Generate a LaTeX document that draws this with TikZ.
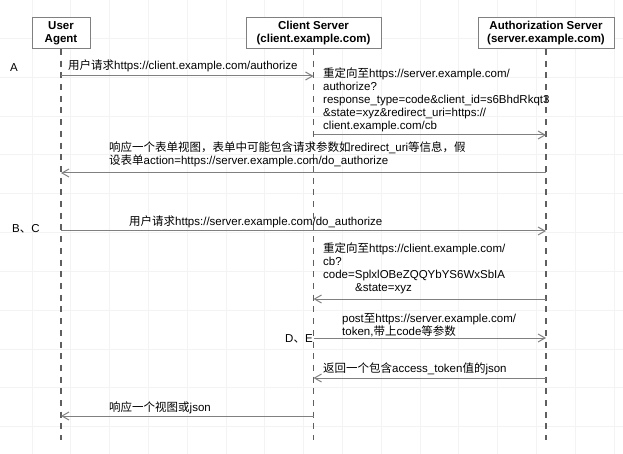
\documentclass[tikz,border=0pt]{standalone}
\usepackage{fontspec}
\setmainfont{Liberation Sans}
\newfontfamily\zhfont{Noto Sans CJK SC}
\newcommand{\zh}[1]{{\zhfont #1}}
\usetikzlibrary{arrows.meta}
\definecolor{gridc}{RGB}{243,243,243}
\definecolor{boxc}{RGB}{128,128,128}
\definecolor{lifec}{RGB}{95,95,95}
\definecolor{msgc}{RGB}{128,128,128}
\begin{document}
\begin{tikzpicture}[
    x=1pt, y=-1pt,
    every node/.style={font=\fontsize{11.5}{13}\selectfont},
    actor/.style={draw=boxc, fill=white, line width=1pt, minimum height=31pt,
        inner sep=0pt, align=center, font=\fontsize{11.5}{13}\selectfont\bfseries},
    lifeline/.style={draw=lifec, line width=1.5pt, dash pattern=on 6pt off 5.7pt},
    msg/.style={draw=msgc, line width=1pt, -{Straight Barb[length=7pt,width=8pt]}},
    txt/.style={inner sep=0pt, align=left}
]
    \useasboundingbox (0,0) rectangle (623,454);
    % background grid
    \foreach \k in {0,...,15}
        \draw[gridc, line width=1pt] (32+38.8*\k,0) -- (32+38.8*\k,454);
    \foreach \k in {0,...,10}
        \draw[gridc, line width=1pt] (0,38.6+38.8*\k) -- (623,38.6+38.8*\k);

    % lifelines
    \coordinate (ua-end) at (61,440);
    \coordinate (cs-end) at (313.5,440);
    \coordinate (as-end) at (546,440);
    \draw[lifeline] (61,49) -- (ua-end);
    \draw[lifeline] (313.5,49) -- (cs-end);
    \draw[lifeline] (546,49) -- (as-end);

    % actors
    \node[actor, minimum width=58pt] (ua) at (61,33.5) {User\\Agent};
    \node[actor, minimum width=135pt] (cs) at (313.5,33.5) {Client Server\\(client.example.com)};
    \node[actor, minimum width=136pt] (as) at (546,33.5) {Authorization Server\\(server.example.com)};

    % message points on the lifelines
    \foreach \n/\y in {1/76,2/135,3/173,4/231,5/299,6/338,7/378,8/416} {
        \coordinate (ua\n) at (61,\y);
        \coordinate (cs\n) at (313.5,\y);
        \coordinate (as\n) at (546,\y);
    }

    % messages
    \draw[msg] (ua1) -- (cs1);
    \draw[msg] (cs2) -- (as2);
    \draw[msg] (as3) -- (ua3);
    \draw[msg] (ua4) -- (as4);
    \draw[msg] (as5) -- (cs5);
    \draw[msg] (cs6) -- (as6);
    \draw[msg] (as7) -- (cs7);
    \draw[msg] (cs8) -- (ua8);

    % step marks
    \node[txt] (stepA) at (14,68) {A};
    \node[txt, anchor=west] (stepBC) at (12,229) {B\zh{、}C};
    \node[txt, anchor=west] (stepDE) at (285,339) {D\zh{、}E};

    % labels
    \node[txt, anchor=west] (lab1) at (68,66)
        {\zh{用户请求}https://client.example.com/authorize};
    \node[txt, anchor=north west] (lab2) at (323,68)
        {\zh{重定向至}https://server.example.com/\\
         authorize?\\
         response\_type=code\&client\_id=s6BhdRkqt3\\
         \&state=xyz\&redirect\_uri=https://\\
         client.example.com/cb};
    \node[txt, anchor=north west] (lab3) at (109,142)
        {\zh{响应一个表单视图，表单中可能包含请求参数如}redirect\_uri\zh{等信息，假}\\
         \zh{设表单}action=https://server.example.com/do\_authorize};
    \node[txt, anchor=west] (lab4) at (129,222)
        {\zh{用户请求}https://server.example.com/do\_authorize};
    \node[txt, anchor=north west] (lab5) at (323,243)
        {\zh{重定向至}https://client.example.com/\\
         cb?\\
         code=SplxlOBeZQQYbYS6WxSbIA\\
         \hspace*{32pt}\&state=xyz};
    \node[txt, anchor=north west] (lab6) at (342,313)
        {post\zh{至}https://server.example.com/\\
         token,\zh{带上}code\zh{等参数}};
    \node[txt, anchor=west] (lab7) at (323,369)
        {\zh{返回一个包含}access\_token\zh{值的}json};
    \node[txt, anchor=west] (lab8) at (109,408)
        {\zh{响应一个视图或}json};
\end{tikzpicture}
\end{document}
